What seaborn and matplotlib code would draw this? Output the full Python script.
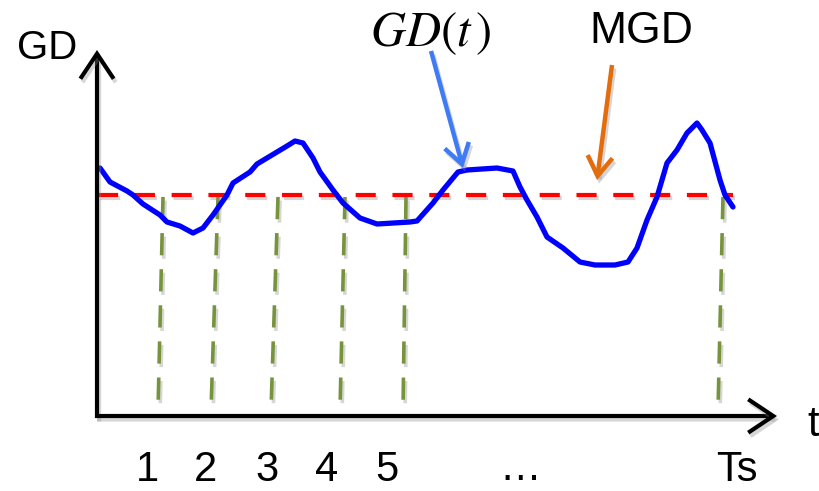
import matplotlib
matplotlib.use("Agg")
import matplotlib.pyplot as plt
import matplotlib.patheffects as pe
from matplotlib.patches import FancyArrowPatch
import seaborn as sns
import pandas as pd

sns.set_theme(style="white")
plt.rcParams['font.family'] = ['Liberation Sans', 'DejaVu Sans']
plt.rcParams['mathtext.fontset'] = 'stix'
plt.rcParams['lines.scale_dashes'] = False

# ---- data (pixel-like schematic coordinates: t to the right, GD downward on screen) ----
t_vals = [100, 110, 127, 133, 143, 160, 167, 180, 193, 203, 213, 227, 233, 250, 257,
          277, 287, 295, 303, 313, 320, 333, 343, 360, 377, 410, 417, 433, 443, 458,
          467, 497, 513, 520, 527, 537, 547, 563, 580, 595, 615, 628, 637, 647, 657,
          667, 677, 687, 697, 702, 710, 720, 725, 733]
gd_vals = [168, 182, 191, 195, 204, 215, 222, 226, 233, 228, 215, 195, 183, 172, 164,
           152, 146, 141, 143, 158, 172, 190, 203, 218, 224, 222, 221, 203, 190, 172,
           170, 168, 171, 187, 200, 217, 237, 248, 262, 265, 265, 262, 248, 220, 197,
           163, 150, 133, 123, 130, 143, 180, 195, 207]
mgd_level = 195
mgd_span = [98, 733]
cross_top = [163, 218, 278, 345, 406, 723]
cross_bot = [158, 211, 271, 340, 403, 718]
tick_labels = ["1", "2", "3", "4", "5", "…", "Ts"]
tick_pos = [147, 206, 267, 327, 387, 520, 737]

df = pd.DataFrame({"t": t_vals, "GD": gd_vals})

fig = plt.figure(figsize=(8.19, 4.91), dpi=100)
ax = fig.add_axes([0, 0, 1, 1])
ax.set_xlim(0, 819)
ax.set_ylim(491, 0)
ax.axis("off")

shadow = [pe.SimpleLineShadow(offset=(1.5, -2.5), shadow_color="0.55", alpha=0.35), pe.Normal()]

# green dashed crossing lines
for xt, xb in zip(cross_top, cross_bot):
    ax.plot([xt, xb], [mgd_level + 2, 410], color="#77933C", lw=2.6,
            linestyle=(0, (16, 10)), solid_capstyle="butt", path_effects=shadow, zorder=2)

# MGD red dashed line
ax.plot(mgd_span, [mgd_level, mgd_level], color="#FF0000", lw=3.0,
        linestyle=(0, (14.5, 12)), path_effects=shadow, zorder=3)

# GD(t) curve
sns.lineplot(data=df, x="t", y="GD", ax=ax, color="#0000FF", lw=3.8, sort=False,
             estimator=None, zorder=4)

def arrow(p0, p1, color, lw, hl, hw):
    ax.add_patch(FancyArrowPatch(p0, p1, arrowstyle=f"->,head_length={hl},head_width={hw}",
                                 color=color, lw=lw, mutation_scale=20, path_effects=shadow,
                                 zorder=6, shrinkA=0, shrinkB=0, joinstyle="miter",
                                 capstyle="butt"))

# axes arrows
arrow((97, 418), (97, 50), "black", 3.0, 0.9, 0.6)
arrow((95, 416), (777, 416), "black", 3.0, 0.9, 0.6)

# pointer arrows
arrow((431, 51), (463, 168), "#3F7BF5", 3.2, 0.7, 0.45)
arrow((612, 65), (597, 180), "#E46C0A", 3.2, 0.7, 0.45)

# texts
ax.text(47, 48, "GD", fontsize=29, ha="center", va="center", color="black")
ax.text(431, 34, r"$GD(t\,)$", fontsize=35, ha="center", va="center", color="black")
ax.text(641, 31, "MGD", fontsize=32, ha="center", va="center", color="black")
ax.text(819, 425, "t", fontsize=30, ha="right", va="center", color="black")
for lab, x in zip(tick_labels, tick_pos):
    if lab == "…":
        ax.text(x, 489, lab, fontsize=30, ha="center", va="bottom", color="black")
    else:
        ax.text(x, 470, lab, fontsize=30, ha="center", va="center", color="black")

fig.savefig("out.png", dpi=100)
